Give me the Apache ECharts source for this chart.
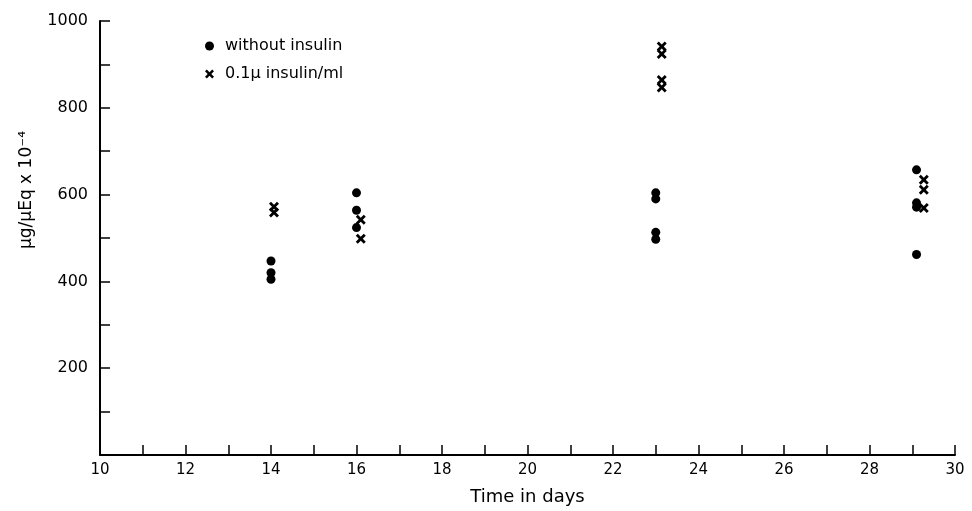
<!DOCTYPE html>
<html>
<head>
<meta charset="utf-8">
<script src="https://cdn.jsdelivr.net/npm/echarts@6/dist/echarts.min.js"></script>
<style>html,body{margin:0;padding:0;background:#fff;}#c{width:972px;height:511px;}</style>
</head>
<body>
<div id="c"></div>
<script>
// Data
var seriesNames = ['without insulin', '0.1\u03bc insulin/ml'];
var daysWithout = [14, 14, 14, 16, 16, 16, 23, 23, 23, 23, 29.1, 29.1, 29.1, 29.1];
var valuesWithout = [447, 420, 405, 604, 564, 524, 604, 590, 513, 497, 657, 581, 571, 462];
var daysInsulin = [14.07, 14.07, 16.1, 16.1, 23.14, 23.14, 23.14, 23.14, 29.27, 29.27, 29.27];
var valuesInsulin = [572, 559, 542, 498, 941, 924, 864, 847, 634, 611, 569];
var xTickMin = 10, xTickMax = 30, xTickStep = 1;
var yTickMin = 0, yTickMax = 1000, yTickStep = 100;
var yAxisTitle = '\u03bcg/\u03bcEq x 10\u207b\u2074';
var xAxisTitle = 'Time in days';

function pairs(xs, ys) { return xs.map(function (x, i) { return [x, ys[i]]; }); }

var crossPath = 'path://M0,2L2,0L5,3L8,0L10,2L7,5L10,8L8,10L5,7L2,10L0,8L3,5Z';
var fontFam = '"DejaVu Sans", sans-serif';

var chart = echarts.init(document.getElementById('c'), null, {renderer: 'canvas'});
chart.setOption({
  animation: false,
  backgroundColor: '#fff',
  grid: {left: 100, right: 17, top: 21, bottom: 55, containLabel: false},
  legend: {
    orient: 'vertical', left: 200, top: 33, itemGap: 12, itemWidth: 9, itemHeight: 9,
    textStyle: {color: '#000', fontSize: 16, fontFamily: fontFam, padding: [0, 0, 0, 6]},
    data: [
      {name: seriesNames[0], icon: 'circle'},
      {name: seriesNames[1], icon: crossPath}
    ]
  },
  graphic: [{
    type: 'text', x: 27, y: 190, rotation: Math.PI / 2,
    style: {text: yAxisTitle, fill: '#000', fontSize: 17, fontFamily: fontFam,
      textAlign: 'center', textVerticalAlign: 'middle'}
  }],
  xAxis: {
    type: 'value', min: xTickMin, max: xTickMax, interval: xTickStep,
    name: xAxisTitle, nameLocation: 'middle', nameGap: 33,
    nameTextStyle: {color: '#000', fontSize: 18, fontFamily: fontFam},
    axisLine: {show: true, lineStyle: {color: '#000', width: 2}},
    axisTick: {show: true, inside: true, length: 10, lineStyle: {color: '#000', width: 1.5}},
    axisLabel: {color: '#000', fontSize: 15, fontFamily: fontFam, margin: 8,
      formatter: function (v) { return v % 2 === 0 ? String(v) : ''; }},
    splitLine: {show: false}
  },
  yAxis: {
    type: 'value', min: yTickMin, max: yTickMax, interval: yTickStep,
    axisLine: {show: true, lineStyle: {color: '#000', width: 2}},
    axisTick: {show: true, inside: true, length: 10, lineStyle: {color: '#000', width: 1.5}},
    axisLabel: {color: '#000', fontSize: 16, fontFamily: fontFam, margin: 12,
      formatter: function (v) { return (v % 200 === 0 && v > 0) ? String(v) : ''; }},
    splitLine: {show: false}
  },
  series: [
    {name: seriesNames[0], type: 'scatter', symbol: 'circle', symbolSize: 9,
     itemStyle: {color: '#000', opacity: 1}, data: pairs(daysWithout, valuesWithout)},
    {name: seriesNames[1], type: 'scatter', symbol: crossPath, symbolSize: 10,
     itemStyle: {color: '#000', opacity: 1}, data: pairs(daysInsulin, valuesInsulin)}
  ]
});
</script>
</body>
</html>
